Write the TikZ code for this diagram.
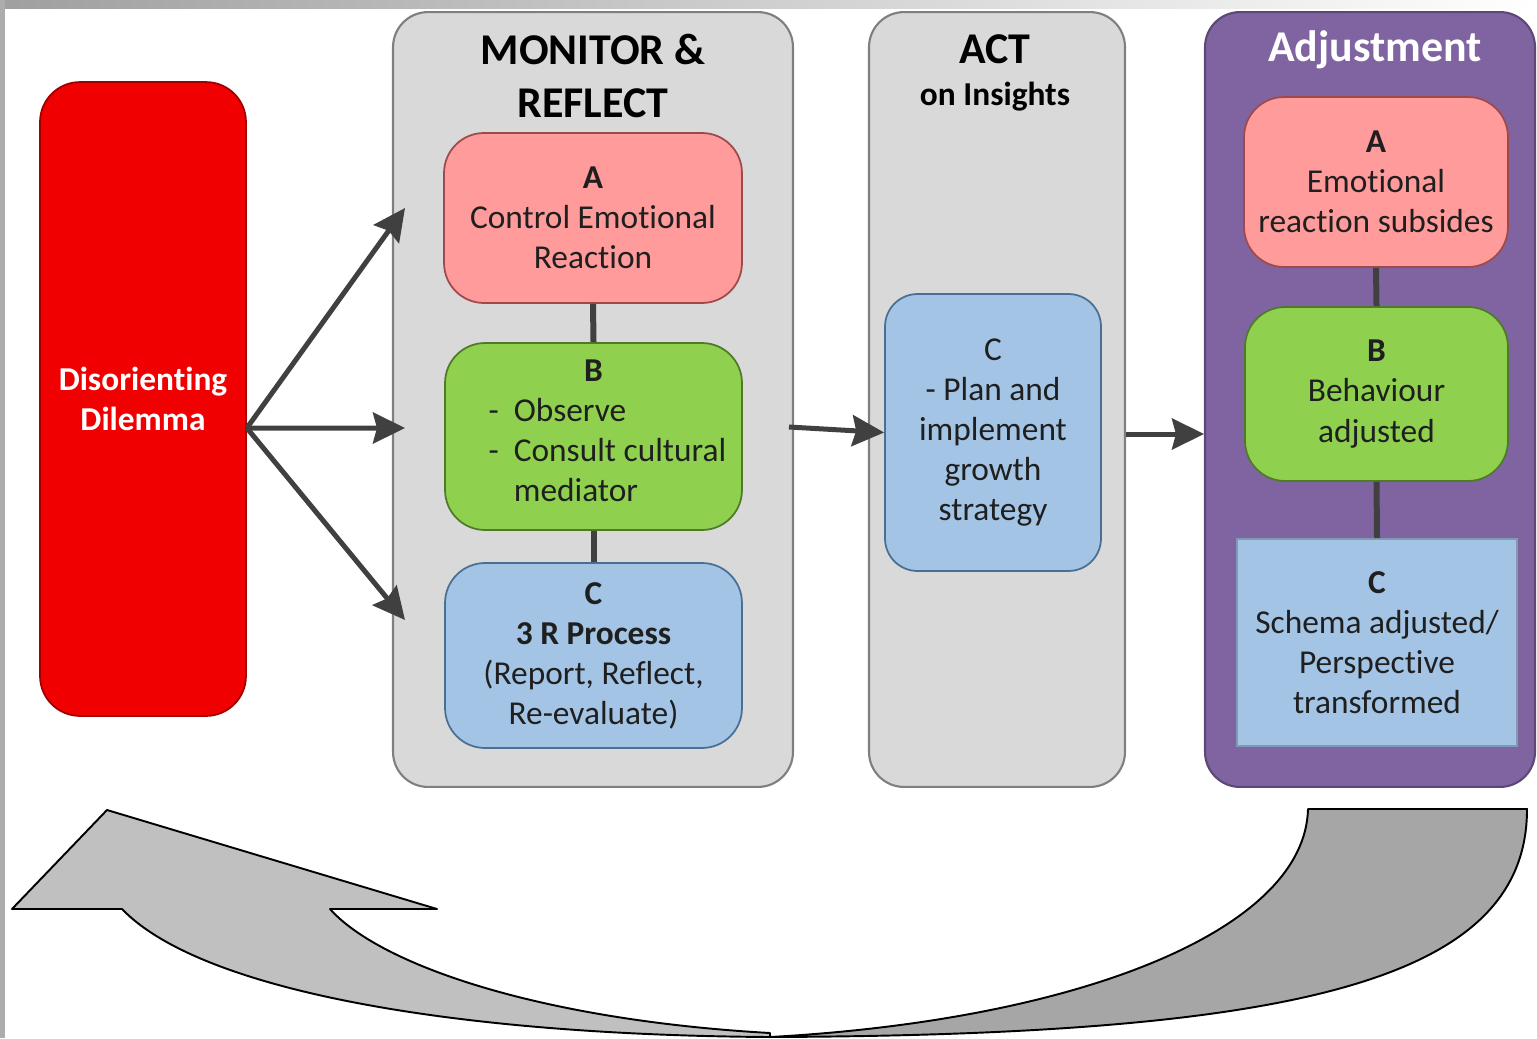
\documentclass[tikz,border=0pt]{standalone}
\usepackage{fontspec}
\setmainfont{Carlito}[Ligatures=NoCommon]
\usetikzlibrary{arrows.meta}

\definecolor{panelfill}{HTML}{D9D9D9}
\definecolor{panelline}{HTML}{7F7F7F}
\definecolor{adjfill}{HTML}{8064A2}
\definecolor{adjline}{HTML}{5C4776}
\definecolor{pinkfill}{HTML}{FF9B9B}
\definecolor{pinkline}{HTML}{9E4A4A}
\definecolor{greenfill}{HTML}{8FD14F}
\definecolor{greenline}{HTML}{4F7A28}
\definecolor{bluefill}{HTML}{A3C4E4}
\definecolor{blueline}{HTML}{4A6F94}
\definecolor{redfill}{HTML}{F00000}
\definecolor{redline}{HTML}{A00000}
\definecolor{arrowgray}{HTML}{404040}
\definecolor{bandlight}{HTML}{C0C0C0}
\definecolor{banddark}{HTML}{A6A6A6}

\newcommand\boxfont{\fontsize{19pt}{22.8pt}\selectfont}
\newcommand\headfont{\fontsize{25pt}{30.7pt}\selectfont\bfseries}

\begin{document}
\begin{tikzpicture}[x=0.02cm,y=-0.02cm,
  panel/.style={draw=panelline,fill=panelfill,line width=1.2pt,rounded corners=0.7cm},
  stepbox/.style={line width=1pt,rounded corners=0.8cm,align=center,font=\boxfont,text=black!88,inner sep=0pt},
  pinkbox/.style={stepbox,draw=pinkline,fill=pinkfill},
  greenbox/.style={stepbox,draw=greenline,fill=greenfill},
  bluebox/.style={stepbox,draw=blueline,fill=bluefill},
  link/.style={draw=arrowgray,line width=0.12cm},
  flow/.style={draw=arrowgray,line width=0.1cm,-{Stealth[length=0.64cm,width=0.62cm,inset=0.08cm]}},
  band/.style={draw=black,line width=1.1pt,line join=round}
]
\useasboundingbox (0,0) rectangle (1537,1038);
\shade[left color=gray!75,right color=white] (0,0) rectangle (1537,8);
\fill[gray!65] (0,0) rectangle (5,1038);

% columns
\node[draw=redline,fill=redfill,line width=1pt,rounded corners=0.8cm,minimum width=4.12cm,minimum height=12.68cm,align=center,text=white,font=\boxfont\bfseries] (dilemma) at (143,399) {Disorienting\\Dilemma};
\node[panel,minimum width=8cm,minimum height=15.5cm] (mrpanel) at (593,399.5) {};
\node[panel,minimum width=5.12cm,minimum height=15.5cm] (actpanel) at (997,399.5) {};
\node[draw=adjline,fill=adjfill,line width=1.2pt,rounded corners=0.7cm,minimum width=6.6cm,minimum height=15.5cm] (adjpanel) at (1370,399.5) {};

% headings
\node[align=center,font=\headfont] (mrhead) at (593,76) {MONITOR \&\\REFLECT};
\node[font=\headfont] (acthead) at (995,49) {ACT};
\node[font=\boxfont\bfseries] (actsub) at (995,97) {on Insights};
\node[font=\headfont,text=white] (adjhead) at (1375,50) {Adjustment};

% monitor and reflect
\node[pinkbox,minimum width=5.96cm,minimum height=3.4cm] (mrA) at (593,218) {\textbf{A}\\Control Emotional\\Reaction};
\node[greenbox,minimum width=5.94cm,minimum height=3.74cm] (mrB) at (593.5,436.5) {\textbf{B}\\\hspace*{0.56cm}\begin{tabular}[t]{@{}l@{\hspace{0.3cm}}l@{}}-&Observe\\-&Consult cultural\\&mediator\end{tabular}};
\node[bluebox,minimum width=5.94cm,minimum height=3.7cm] (mrC) at (593.5,655.5) {\textbf{C}\\\textbf{3 R Process}\\(Report, Reflect,\\Re-evaluate)};
\draw[link] (mrA.south) -- (mrB.north);
\draw[link] (mrB.south) -- (mrC.north);

% act
\node[bluebox,rounded corners=0.65cm,minimum width=4.32cm,minimum height=5.54cm] (actC) at (993,432.5) {C\\- Plan and\\implement\\growth\\strategy};

% adjustment
\node[pinkbox,minimum width=5.28cm,minimum height=3.4cm] (adjA) at (1376,182) {\textbf{A}\\Emotional\\reaction subsides};
\node[greenbox,minimum width=5.26cm,minimum height=3.48cm] (adjB) at (1376.5,394) {\textbf{B}\\Behaviour\\adjusted};
\node[bluebox,rounded corners=0pt,draw=blueline!70,minimum width=5.6cm,minimum height=4.14cm] (adjC) at (1377,642.5) {\textbf{C}\\Schema adjusted/\\Perspective\\transformed};
\draw[link] (adjA.south) -- (adjB.north);
\draw[link] (adjB.south) -- (adjC.north);

% arrows
\coordinate (fork) at ([yshift=-0.58cm]dilemma.east);
\coordinate (inA) at (405,208);
\coordinate (inB) at (405,428);
\coordinate (inC) at (405,620);
\coordinate (mrout) at (789,427);
\draw[flow] (fork) -- (inA);
\draw[flow] (fork) -- (inB);
\draw[flow] (fork) -- (inC);
\draw[flow] (mrout) -- (actC.west);
\draw[flow] ([yshift=-0.69cm]actpanel.east) -- ([yshift=-0.69cm]adjpanel.west);

% return arrow
\filldraw[band,fill=banddark] (1308,809) -- (1527,809)
  .. controls (1527,980) and (1300,1035) .. (770,1037)
  .. controls (1080,1020) and (1305,930) .. (1308,809) -- cycle;
\filldraw[band,fill=bandlight] (770,1037)
  .. controls (450,1035) and (200,990) .. (122,909)
  -- (12,909) -- (107,810) -- (437,909) -- (330,909)
  .. controls (380,965) and (540,1020) .. (770,1033) -- cycle;

\end{tikzpicture}
\end{document}
